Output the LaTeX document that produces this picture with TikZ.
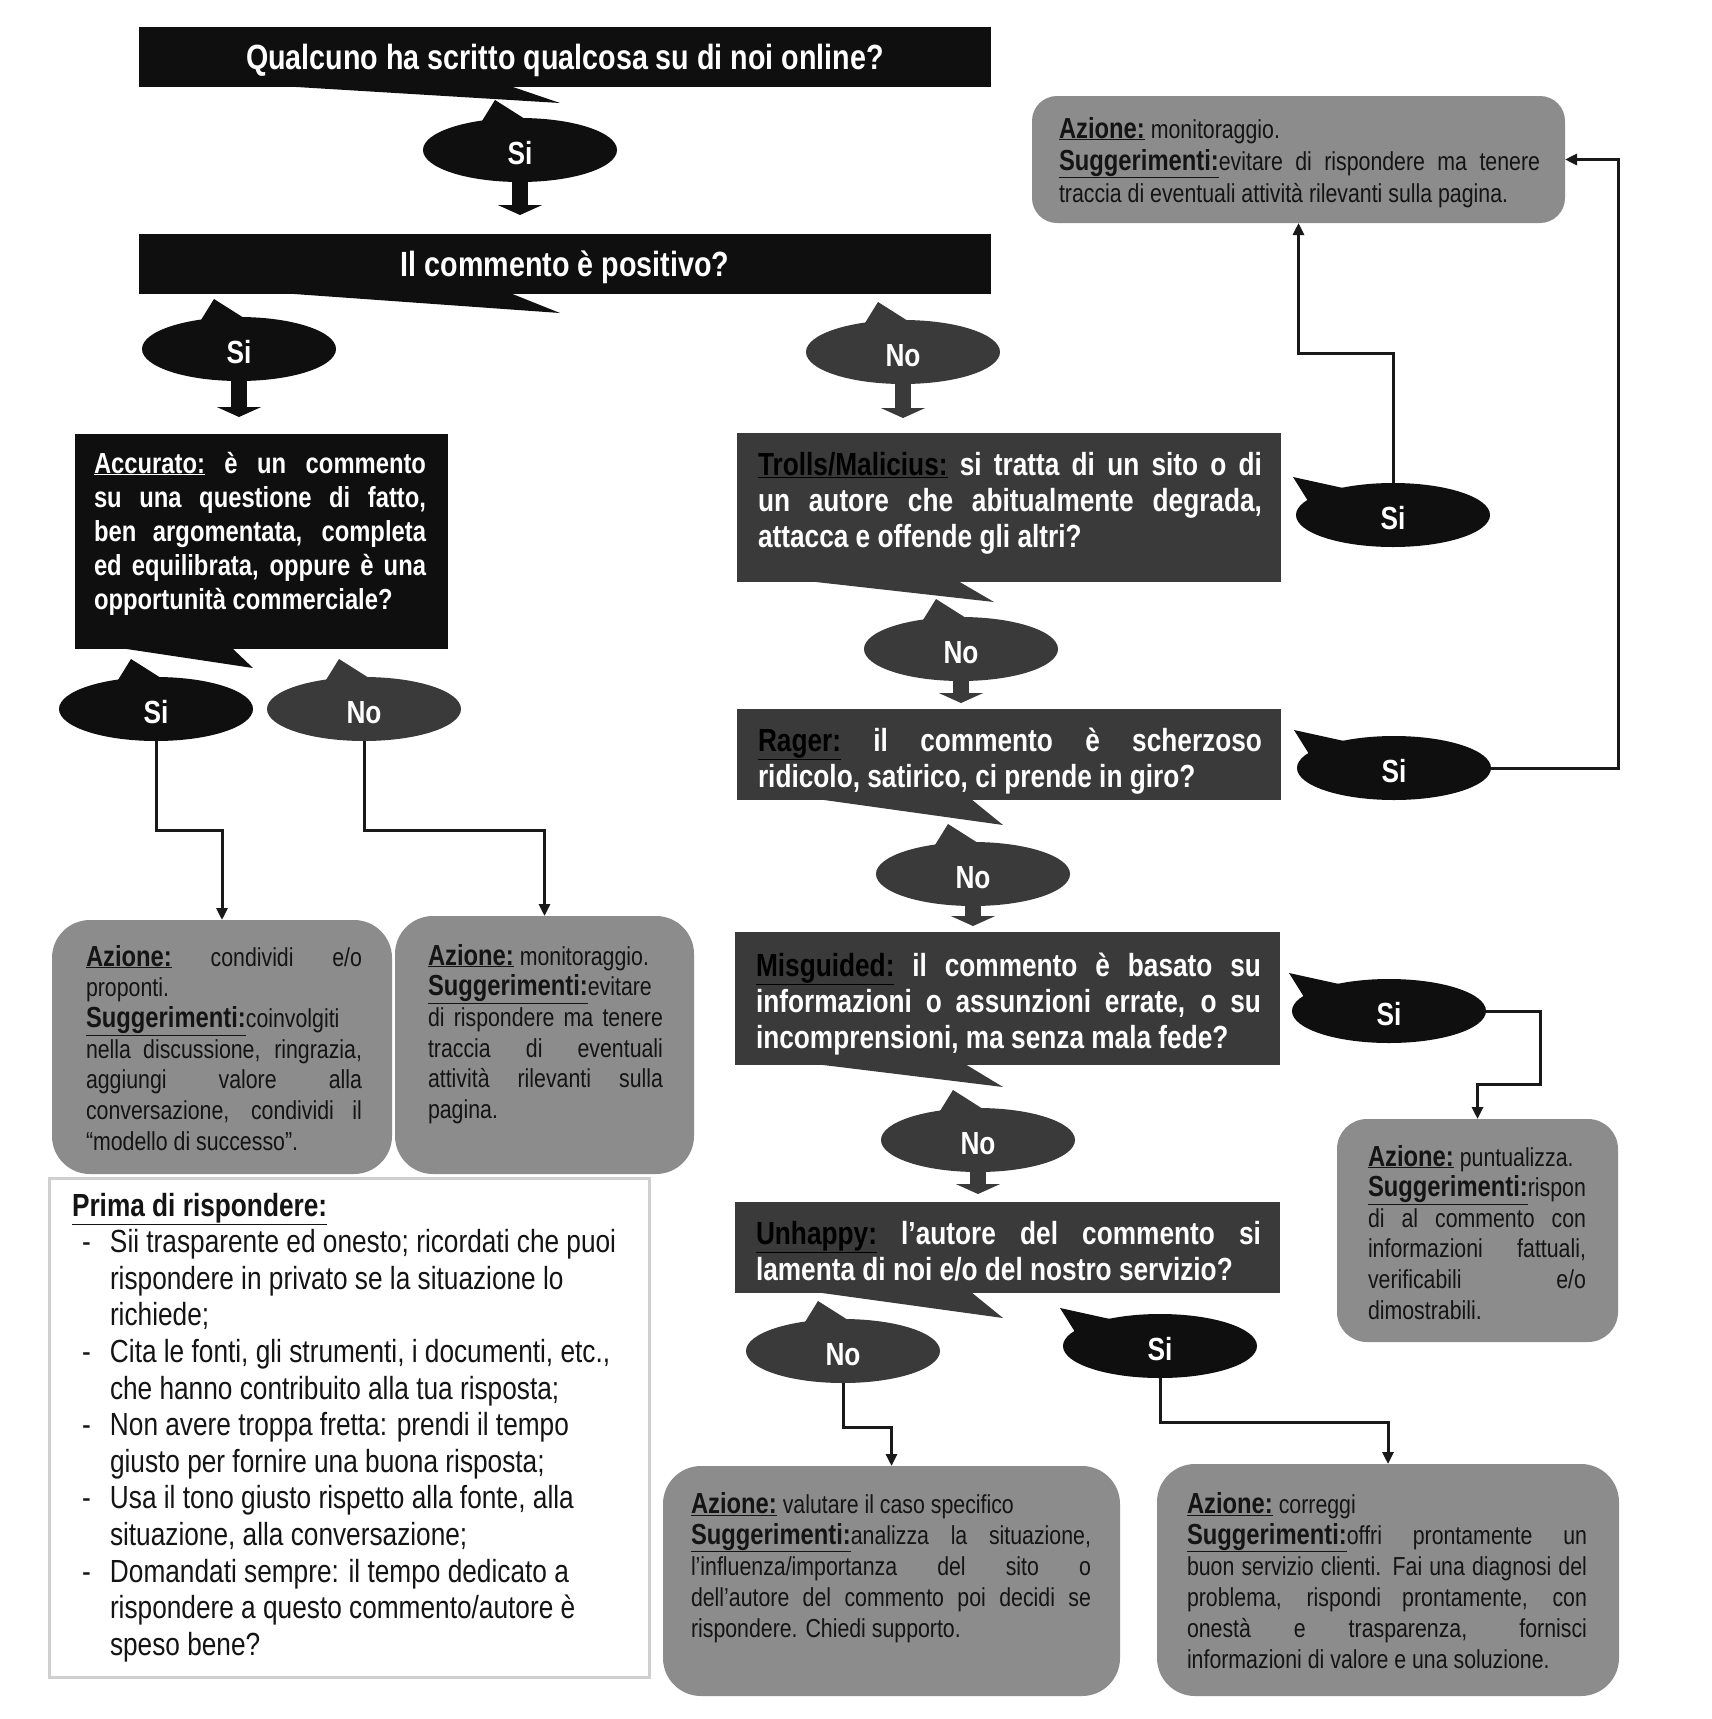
\documentclass[tikz,border=0pt]{standalone}
\usepackage{fontspec}
\setmainfont{Liberation Sans}[FakeStretch=0.82]
\usetikzlibrary{shapes.geometric,arrows.meta,calc}
\definecolor{blk}{HTML}{0F0F0F}
\definecolor{dgray}{HTML}{3A3A3A}
\definecolor{agray}{HTML}{8C8C8C}
\definecolor{txtd}{HTML}{141414}
\definecolor{bord}{HTML}{CFCFCF}
\newcommand{\lab}[1]{\underline{\fontsize{29pt}{31pt}\selectfont\bfseries #1}}
\newcommand{\blk}[2]{\vtop{\baselineskip=#1\lineskiplimit=-100pt\lineskip=0pt\relax #2}}
\newcommand{\uptail}[2]{\fill[#2] ($(#1.north)+(-38,3)$) -- ($(#1.north)+(-25,-18)$) -- ($(#1.north)+(5,1)$) -- cycle;}
\newcommand{\lefttail}[2]{\fill[#2] ($(#1.center)+(-85,-14)$) -- ($(#1.center)+(-100,-38)$) -- ($(#1.center)+(-50,-27)$) -- cycle;}
\newcommand{\rtail}[5]{\fill[#2] ($(#1.south west)+(#3,-1)$) -- ($(#1.south west)+(#4,-1)$) -- ($(#1.south west)+#5$) -- cycle;}
\newcommand{\lw}[1]{\raisebox{-3.5pt}[\height][\depth]{#1}}
\begin{document}
\begin{tikzpicture}[x=1pt,y=-1pt,
  qbox/.style={rectangle, inner sep=0pt, outer sep=0pt, draw=none},
  ell/.style={ellipse, inner sep=0pt, outer sep=0pt, minimum width=194pt, minimum height=64pt, text=white, font=\fontsize{32pt}{32pt}\selectfont\bfseries},
  sie/.style={ell, fill=blk},
  noe/.style={ell, fill=dgray},
  abox/.style={rectangle, rounded corners=38pt, fill=agray, inner sep=0pt, outer sep=0pt},
  txt/.style={anchor=base west, inner sep=0pt, outer sep=0pt},
  wq/.style={txt, text=white, font=\fontsize{32pt}{36pt}\selectfont\bfseries},
  atxt/.style={txt, text=txtd, font=\fontsize{26pt}{31pt}\selectfont},
  conn/.style={draw=black!90, line width=3pt, -{Triangle[length=12pt,width=11pt]}},
  blockarr/.style={line width=16pt, -{Triangle[length=10pt,width=44pt]}},
]
\useasboundingbox (0,0) rectangle (1712,1719);
\fill[white] (0,0) rectangle (1712,1719);

% ---------- top bars ----------
\node[qbox, fill=blk, minimum width=852pt, minimum height=60pt, text=white, font=\fontsize{35pt}{35pt}\selectfont\bfseries] (bar1) at (565,57) {\lw{Qualcuno ha scritto qualcosa su di noi online?}};
\rtail{bar1}{blk}{141}{371}{(421,16)}
\node[qbox, fill=blk, minimum width=852pt, minimum height=60pt, text=white, font=\fontsize{35pt}{35pt}\selectfont\bfseries] (bar2) at (565,264) {\lw{Il commento è positivo?}};
\rtail{bar2}{blk}{141}{371}{(421,19)}

% ---------- question boxes ----------
\node[qbox, fill=blk, minimum width=373pt, minimum height=215pt] (acc) at (261.5,541.5) {};
\rtail{acc}{blk}{45}{157}{(178,19)}
\node[qbox, fill=dgray, minimum width=544pt, minimum height=149pt] (troll) at (1009,507.5) {};
\rtail{troll}{dgray}{70}{221}{(257,20)}
\node[qbox, fill=dgray, minimum width=544pt, minimum height=91pt] (rager) at (1009,754.5) {};
\rtail{rager}{dgray}{80}{234}{(266,25)}
\node[qbox, fill=dgray, minimum width=545pt, minimum height=133pt] (misg) at (1007.5,998.5) {};
\rtail{misg}{dgray}{80}{230}{(268,22)}
\node[qbox, fill=dgray, minimum width=545pt, minimum height=91pt] (unh) at (1007.5,1247.5) {};
\rtail{unh}{dgray}{80}{236}{(268,25)}

% ---------- action boxes ----------
\node[abox, rounded corners=25pt, minimum width=533pt, minimum height=127pt] (mon) at (1298.5,159.5) {};
\node[abox, minimum width=340pt, minimum height=254pt] (act1) at (222,1047) {};
\node[abox, minimum width=299pt, minimum height=258pt] (act2) at (544.5,1045) {};
\node[abox, rounded corners=30pt, minimum width=281pt, minimum height=223pt] (punt) at (1477.5,1230.5) {};
\node[abox, minimum width=457pt, minimum height=230pt] (val) at (891.5,1581) {};
\node[abox, minimum width=462pt, minimum height=232pt] (corr) at (1388,1580) {};
\node[qbox, draw=bord, line width=3pt, fill=white, minimum width=600pt, minimum height=499pt] (prima) at (349,1427.5) {};

% ---------- ellipse callouts ----------
\node[sie] (e1) at (520,150) {\lw{Si}};
\node[sie] (e2) at (239,349) {\lw{Si}};
\node[noe] (e3) at (903,352) {\lw{No}};
\node[sie] (e4) at (156,709) {\lw{Si}};
\node[noe] (e5) at (364,709) {\lw{No}};
\node[sie] (e6) at (1393,515) {\lw{Si}};
\node[noe] (e7) at (961,649) {\lw{No}};
\node[sie] (e8) at (1394,768) {\lw{Si}};
\node[noe] (e9) at (973,874) {\lw{No}};
\node[sie] (e10) at (1389,1011) {\lw{Si}};
\node[noe] (e11) at (978,1140) {\lw{No}};
\node[noe] (e12) at (843,1351) {\lw{No}};
\node[sie] (e13) at (1160,1346) {\lw{Si}};

\uptail{e1}{blk}
\uptail{e2}{blk}
\uptail{e3}{dgray}
\uptail{e4}{blk}
\uptail{e5}{dgray}
\uptail{e7}{dgray}
\uptail{e9}{dgray}
\uptail{e11}{dgray}
\uptail{e12}{dgray}
\lefttail{e6}{blk}
\lefttail{e8}{blk}
\lefttail{e10}{blk}
\lefttail{e13}{blk}

% ---------- block arrows ----------
\draw[blockarr, blk, shorten >=19pt] ($(e1.south)+(0,-8)$) -- (e1.south |- bar2.north);
\draw[blockarr, blk, shorten >=17pt] ($(e2.south)+(0,-8)$) -- (e2.south |- acc.north);
\draw[blockarr, dgray, shorten >=15pt] ($(e3.south)+(0,-8)$) -- (e3.south |- troll.north);
\draw[blockarr, dgray, shorten >=6pt] ($(e7.south)+(0,-8)$) -- (e7.south |- rager.north);
\draw[blockarr, dgray, shorten >=6pt] ($(e9.south)+(0,-8)$) -- (e9.south |- misg.north);
\draw[blockarr, dgray, shorten >=8pt] ($(e11.south)+(0,-8)$) -- (e11.south |- unh.north);

% ---------- connectors ----------
\draw[conn] (e4.south) -- ++(0,89) -| (act1.north);
\draw[conn] (e5.south) -- ++(0,89) -| (act2.north);
\draw[conn] (e6.north) -- ++(0,-130) -| (mon.south);
\coordinate (rr) at (1618,768);
\draw[conn] (e8.east) -- (rr) |- (mon.east);
\draw[conn] (e10.east) -- ++(54,0) -- ++(0,73) -| (punt.north);
\draw[conn] (e12.south) -- ++(0,44) -| (val.north);
\draw[conn] (e13.south) -- ++(0,44) -| (corr.north);

% ---------- texts in question boxes ----------
\node[txt, text=white, font=\fontsize{29pt}{34pt}\selectfont\bfseries] (acct) at (94,473) {\blk{34pt}{%
\hbox to 332pt{\underline{Accurato:} è un commento}
\hbox to 332pt{su una questione di fatto,}
\hbox to 332pt{ben argomentata, completa}
\hbox to 332pt{ed equilibrata, oppure è una}
\hbox{opportunità commerciale?}}};

\node[wq] (trollt) at (758,475) {\blk{36pt}{%
\hbox to 504pt{\textcolor{black}{\underline{Trolls/Malicius:}} si tratta di un sito o di}
\hbox to 504pt{un autore che abitualmente degrada,}
\hbox{attacca e offende gli altri?}}};

\node[wq] (ragert) at (758,751) {\blk{36pt}{%
\hbox to 504pt{\textcolor{black}{\underline{Rager:}} il commento è scherzoso}
\hbox{ridicolo, satirico, ci prende in giro?}}};

\node[wq] (misgt) at (756,976) {\blk{36pt}{%
\hbox to 505pt{\textcolor{black}{\underline{Misguided:}} il commento è basato su}
\hbox to 505pt{informazioni o assunzioni errate, o su}
\hbox{incomprensioni, ma senza mala fede?}}};

\node[wq] (unht) at (756,1244) {\blk{36pt}{%
\hbox to 505pt{\textcolor{black}{\underline{Unhappy:}} l'autore del commento si}
\hbox{lamenta di noi e/o del nostro servizio?}}};

% ---------- texts in action boxes ----------
\node[atxt] (mont) at (1059,138) {\blk{32pt}{%
\hbox{\lab{Azione:} monitoraggio.}
\hbox to 481pt{\lab{Suggerimenti:}evitare di rispondere ma tenere}
\hbox{traccia di eventuali attività rilevanti sulla pagina.}}};

\node[atxt] (act1t) at (86,966) {\blk{30.7pt}{%
\hbox to 276pt{\lab{Azione:} condividi e/o}
\hbox{proponti.}
\hbox{\lab{Suggerimenti:}coinvolgiti}
\hbox to 276pt{nella discussione, ringrazia,}
\hbox to 276pt{aggiungi valore alla}
\hbox to 276pt{conversazione, condividi il}
\hbox{“modello di successo”.}}};

\node[atxt] (act2t) at (428,965) {\blk{30.7pt}{%
\hbox{\lab{Azione:} monitoraggio.}
\hbox{\lab{Suggerimenti:}evitare}
\hbox to 235pt{di rispondere ma tenere}
\hbox to 235pt{traccia di eventuali}
\hbox to 235pt{attività rilevanti sulla}
\hbox{pagina.}}};

\node[atxt] (puntt) at (1368,1166) {\blk{30.6pt}{%
\hbox{\lab{Azione:} puntualizza.}
\hbox{\lab{Suggerimenti:}rispon}
\hbox to 218pt{di al commento con}
\hbox to 218pt{informazioni fattuali,}
\hbox to 218pt{verificabili e/o}
\hbox{dimostrabili.}}};

\node[atxt] (valt) at (691,1513) {\blk{31pt}{%
\hbox{\lab{Azione:} valutare il caso specifico}
\hbox to 400pt{\lab{Suggerimenti:}analizza la situazione,}
\hbox to 400pt{l'influenza/importanza del sito o}
\hbox to 400pt{dell'autore del commento poi decidi se}
\hbox{rispondere. Chiedi supporto.}}};

\node[atxt] (corrt) at (1187,1513) {\blk{31pt}{%
\hbox{\lab{Azione:} correggi}
\hbox to 400pt{\lab{Suggerimenti:}offri prontamente un}
\hbox to 400pt{buon servizio clienti. Fai una diagnosi del}
\hbox to 400pt{problema, rispondi prontamente, con}
\hbox to 400pt{onestà e trasparenza, fornisci}
\hbox{informazioni di valore e una soluzione.}}};

% ---------- Prima di rispondere ----------
\node[txt, text=txtd, font=\fontsize{32pt}{36pt}\selectfont] (primat) at (72,1216) {\blk{36.6pt}{%
\hbox{\bfseries\underline{Prima di rispondere:}}
\hbox{\hskip10pt\hbox to 28pt{-\hss}Sii trasparente ed onesto; ricordati che puoi}
\hbox{\hskip38pt rispondere in privato se la situazione lo}
\hbox{\hskip38pt richiede;}
\hbox{\hskip10pt\hbox to 28pt{-\hss}Cita le fonti, gli strumenti, i documenti, etc.,}
\hbox{\hskip38pt che hanno contribuito alla tua risposta;}
\hbox{\hskip10pt\hbox to 28pt{-\hss}Non avere troppa fretta: prendi il tempo}
\hbox{\hskip38pt giusto per fornire una buona risposta;}
\hbox{\hskip10pt\hbox to 28pt{-\hss}Usa il tono giusto rispetto alla fonte, alla}
\hbox{\hskip38pt situazione, alla conversazione;}
\hbox{\hskip10pt\hbox to 28pt{-\hss}Domandati sempre: il tempo dedicato a}
\hbox{\hskip38pt rispondere a questo commento/autore è}
\hbox{\hskip38pt speso bene?}}};
\end{tikzpicture}
\end{document}
